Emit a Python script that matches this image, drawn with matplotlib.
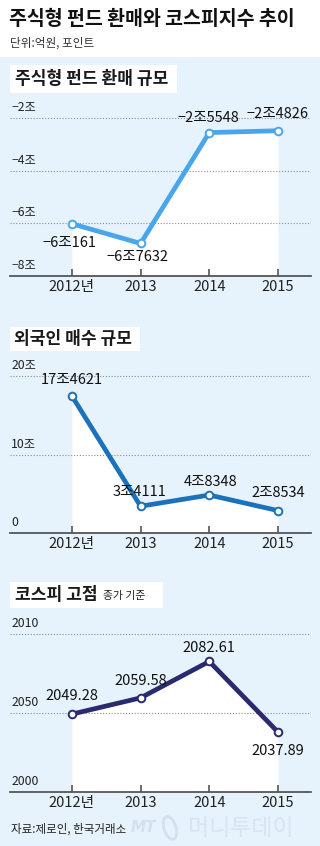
import matplotlib
matplotlib.use("Agg")
import matplotlib.pyplot as plt
from matplotlib.patches import Rectangle, Ellipse

plt.rcParams['font.family'] = ['Noto Sans CJK KR', 'DejaVu Sans']

# ---- data ----
years = ['2012년', '2013', '2014', '2015']

fund = [-6.0161, -6.7632, -2.5548, -2.4826]          # 조원
fund_text = ['−6조161', '−6조7632', '−2조5548', '−2조4826']
fund_ticks = [-2, -4, -6, -8]
fund_ticklabels = ['−2조', '−4조', '−6조', '−8조']

foreign = [17.4621, 3.4111, 4.8348, 2.8534]          # 조원
foreign_text = ['17조4621', '3조4111', '4조8348', '2조8534']
foreign_ticks = [20, 10, 0]
foreign_ticklabels = ['20조', '10조', '0']

kospi = [2049.28, 2059.58, 2082.61, 2037.89]
kospi_text = ['2049.28', '2059.58', '2082.61', '2037.89']
kospi_ticks = [2100, 2050, 2000]
kospi_ticklabels = ['2010', '2050', '2000']

W, H = 320, 846
fig = plt.figure(figsize=(W / 100, H / 100), dpi=100)
fig.patch.set_facecolor('white')


def fy(y):
    return 1 - y / H


# light blue background (behind the axes)
fig.patches.append(Rectangle((0, 0), 1, fy(57), transform=fig.transFigure,
                             facecolor='#e6f2fc', edgecolor='none', zorder=-5))

fig.text(9 / W, fy(19), '주식형 펀드 환매와 코스피지수 추이', fontsize=14,
         fontweight='bold', va='center', ha='left', color='#111111')
fig.text(10 / W, fy(43), '단위:억원, 포인트', fontsize=8.4, va='center',
         ha='left', color='#333333')


def title_box(x0, x1, y0, y1):
    fig.patches.append(Rectangle((x0 / W, fy(y1)), (x1 - x0) / W, (y1 - y0) / H,
                                 transform=fig.transFigure, facecolor='white',
                                 edgecolor='none', zorder=-4))


def panel(top, bottom, grid_px, ticks, ticklabels, vals, texts, offs, color):
    ylo, yhi = ticks[-1], ticks[0]
    ppu = (bottom - grid_px) / (yhi - ylo)
    ytop = yhi + (grid_px - top) / ppu
    ax = fig.add_axes([10 / W, fy(bottom), 301 / W, (bottom - top) / H])
    ax.set_facecolor('none')
    ax.set_xlim(-0.9, 3.48)
    ax.set_ylim(ylo, ytop)
    for s in ['top', 'right', 'left']:
        ax.spines[s].set_visible(False)
    ax.spines['bottom'].set_color('#555555')
    ax.spines['bottom'].set_linewidth(1.3)
    x = list(range(len(vals)))
    ax.fill_between(x, vals, ylo, color='white', lw=0, zorder=1)
    for t in ticks[:-1]:
        ax.axhline(t, color='#8f8f8f', lw=0.8, ls=(0, (1, 1.6)), zorder=2)
    for t, lbl in zip(ticks, ticklabels):
        ax.annotate(lbl, xy=(0.004, t), xycoords=('axes fraction', 'data'),
                    xytext=(0, 4), textcoords='offset pixels', ha='left',
                    va='bottom', fontsize=8.8, color='#222222')
    ax.plot(x, vals, color=color, lw=3.4, marker='o', ms=5.5, mfc='white',
            mec=color, mew=1.4, zorder=4, solid_joinstyle='round')
    for xi, v, txt, (dx, dy) in zip(x, vals, texts, offs):
        ax.annotate(txt, xy=(xi, v), xytext=(dx, dy), textcoords='offset pixels',
                    ha='center', va='center', fontsize=10.5, fontweight='medium',
                    color='#111111', zorder=5)
    ax.set_yticks([])
    ax.set_xticks(x)
    ax.set_xticklabels(years, fontsize=10.5, color='#222222')
    ax.tick_params(axis='x', direction='in', length=5, width=1.2,
                   color='#555555', pad=3)
    return ax


# panel 1: fund redemptions
title_box(10, 177, 65, 93)
fig.text(15 / W, fy(79), '주식형 펀드 환매 규모', fontsize=12.3, fontweight='bold',
         va='center', ha='left', color='#1a1a1a')
panel(100, 276, 118, fund_ticks, fund_ticklabels, fund, fund_text,
      [(-2, -19), (-3, -14), (-1, 15), (-1, 17)], '#4aa6ea')

# panel 2: foreign buying
title_box(10, 140, 327, 351)
fig.text(14 / W, fy(339), '외국인 매수 규모', fontsize=12.3, fontweight='bold',
         va='center', ha='left', color='#1a1a1a')
panel(358, 533, 376, foreign_ticks, foreign_ticklabels, foreign, foreign_text,
      [(0, 16), (-1, 14), (1, 13), (0, 18)], '#1b72ba')

# panel 3: KOSPI peak
title_box(10, 163, 582, 608)
fig.text(15 / W, fy(595), '코스피 고점', fontsize=12.3, fontweight='bold',
         va='center', ha='left', color='#1a1a1a')
fig.text(103 / W, fy(596), '종가 기준', fontsize=7.8, va='center', ha='left',
         color='#222222')
panel(612, 792, 634, kospi_ticks, kospi_ticklabels, kospi, kospi_text,
      [(0, 18), (0, 17), (0, 13), (0, -19)], '#2a2a6e')

# source + watermark
fig.text(11 / W, fy(829), '자료:제로인, 한국거래소', fontsize=8.3, va='center',
         ha='left', color='#222222')
fig.text(131 / W, fy(827), 'MT', fontsize=11, fontstyle='italic', fontweight='bold',
         va='center', ha='left', color='#d3e1ee', family=['DejaVu Sans'])
fig.patches.append(Ellipse((170 / W, fy(828)), 14 / W, 20 / H, angle=-20,
                           transform=fig.transFigure, facecolor='none',
                           edgecolor='#d3e1ee', lw=2, zorder=-3))
fig.text(188 / W, fy(828), '머니투데이', fontsize=16.5, va='center', ha='left',
         color='#d8e5f1')

fig.savefig('out.png', dpi=100)
